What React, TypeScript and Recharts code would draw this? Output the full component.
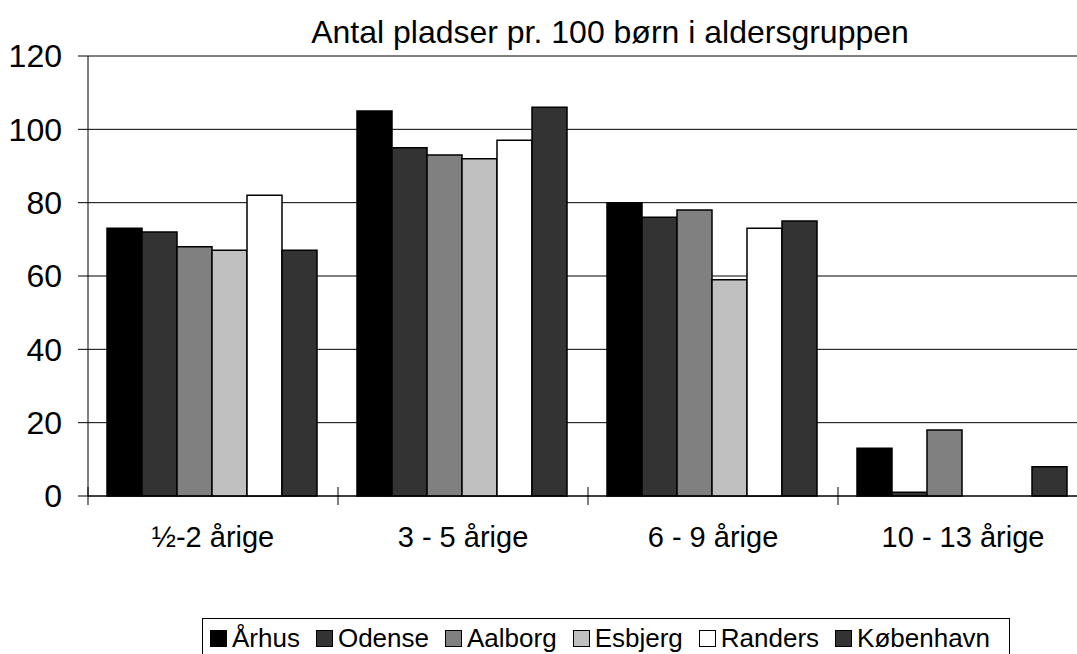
import React from 'react'
import { BarChart, Bar, XAxis, YAxis, CartesianGrid } from 'recharts'

const categories = ['½-2 årige', '3 - 5 årige', '6 - 9 årige', '10 - 13 årige']
const cities = ['Århus', 'Odense', 'Aalborg', 'Esbjerg', 'Randers', 'København']
const aarhus = [73, 105, 80, 13]
const odense = [72, 95, 76, 1]
const aalborg = [68, 93, 78, 18]
const esbjerg = [67, 92, 59, 0]
const randers = [82, 97, 73, 0]
const koebenhavn = [67, 106, 75, 8]
const yTicks = [0, 20, 40, 60, 80, 100, 120]

const seriesValues = [aarhus, odense, aalborg, esbjerg, randers, koebenhavn]
const colors = ['#000000', '#333333', '#808080', '#c0c0c0', '#ffffff', '#333333']
const keys = ['s0', 's1', 's2', 's3', 's4', 's5']

const data = categories.map((name, i) => {
    const row: Record<string, string | number> = { name }
    seriesValues.forEach((vals, j) => {
        row[keys[j]] = vals[i]
    })
    return row
})

const FONT = '"Liberation Sans", Arial, sans-serif'

// label at the centre of the category, cross tick marks at the category edges
const CategoryTick = (props: any) => {
    const { x, y, payload, index } = props
    const count = props.visibleTicksCount || categories.length
    const band = (props.width || 1000) / count
    const left = x - band / 2
    return (
        <g>
            <line x1={left} x2={left} y1={y - 9} y2={y + 9} stroke="#000" strokeWidth={1} />
            {index === count - 1 && (
                <line x1={left + band} x2={left + band} y1={y - 9} y2={y + 9} stroke="#000" strokeWidth={1} />
            )}
            <text x={x} y={y + 30} dy="0.71em" textAnchor="middle" fill="#000" fontSize={29} fontFamily={FONT}>
                {payload.value}
            </text>
        </g>
    )
}

export default function App() {
    return (
        <div style={{ position: 'absolute', left: 0, top: 0, width: 1077, height: 654, overflow: 'hidden', background: '#fff', fontFamily: FONT }}>
            <div style={{ position: 'absolute', left: 0, width: 1220, top: 16, textAlign: 'center', fontSize: 32, color: '#000', lineHeight: '32px' }}>
                Antal pladser pr. 100 børn i aldersgruppen
            </div>
            <BarChart
                width={1100}
                height={654}
                data={data}
                margin={{ top: 56, right: 12, left: 0, bottom: 0 }}
                barCategoryGap={19}
                barGap={0}
            >
                <CartesianGrid vertical={false} stroke="#000" strokeWidth={1} />
                <XAxis
                    dataKey="name"
                    interval={0}
                    height={158}
                    axisLine={{ stroke: '#000', strokeWidth: 1 }}
                    tickLine={false}
                    tickSize={0}
                    tickMargin={0}
                    tick={<CategoryTick />}
                />
                <YAxis
                    width={88}
                    domain={[0, 120]}
                    ticks={yTicks}
                    interval={0}
                    axisLine={{ stroke: '#000', strokeWidth: 1 }}
                    tickLine={{ stroke: '#000' }}
                    tickSize={10}
                    tickMargin={16}
                    tick={{ fill: '#000', fontSize: 32, fontFamily: FONT }}
                />
                {keys.map((k, j) => (
                    <Bar
                        key={k}
                        dataKey={k}
                        name={cities[j]}
                        fill={colors[j]}
                        stroke="#000"
                        strokeWidth={1.5}
                        isAnimationActive={false}
                    />
                ))}
            </BarChart>
            <div
                style={{
                    position: 'absolute',
                    left: 202,
                    top: 618,
                    width: 808,
                    height: 50,
                    boxSizing: 'border-box',
                    border: '1px solid #000',
                    paddingLeft: 7,
                    paddingBottom: 10,
                    display: 'flex',
                    alignItems: 'center',
                    fontSize: 26,
                    color: '#000',
                    whiteSpace: 'nowrap',
                }}
            >
                {cities.map((c, j) => (
                    <span key={c} style={{ display: 'inline-flex', alignItems: 'center', marginRight: 16 }}>
                        <span style={{ display: 'inline-block', width: 15, height: 15, background: colors[j], border: '1.5px solid #000', marginRight: 5 }} />
                        {c}
                    </span>
                ))}
            </div>
        </div>
    )
}
